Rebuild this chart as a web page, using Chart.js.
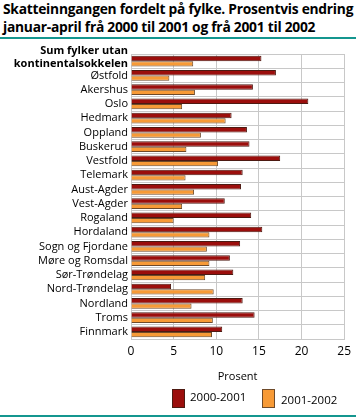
<!DOCTYPE html>
<html>
<head>
<meta charset="utf-8">
<script src="https://cdn.jsdelivr.net/npm/chart.js@4.4.1/dist/chart.umd.min.js"></script>
<style>
  html, body { margin: 0; padding: 0; background: #ffffff; }
  #wrap { position: relative; width: 356px; height: 417px; overflow: hidden; font-family: "Open Sans", sans-serif; }
  #title { position: absolute; left: 3px; top: 0px; font-weight: 700; font-size: 13.8px; line-height: 17.5px; color: #000; letter-spacing: -0.25px; white-space: nowrap; }
  .rule { position: absolute; left: 0; width: 356px; height: 2px; background: #14968f; }
  canvas { position: absolute; left: 0; top: 0; }
  .lg { position: absolute; font-size: 11.5px; color: #000; white-space: nowrap; line-height: 14px; }
  .box { position: absolute; width: 11px; height: 17px; border: 1px solid #555; }
</style>
</head>
<body>
<div id="wrap">
  <div id="title">Skatteinngangen fordelt på fylke. Prosentvis endring<br>januar-april frå 2000 til 2001 og frå 2001 til 2002</div>
  <div class="rule" style="top:37px"></div>
  <canvas id="c" width="356" height="417"></canvas>
  <div id="legend"></div>
  <div class="rule" style="top:415px"></div>
</div>
<script>
const categories = [
  ["Sum fylker utan", "kontinentalsokkelen"],
  "Østfold", "Akershus", "Oslo", "Hedmark", "Oppland", "Buskerud", "Vestfold",
  "Telemark", "Aust-Agder", "Vest-Agder", "Rogaland", "Hordaland",
  "Sogn og Fjordane", "Møre og Romsdal", "Sør-Trøndelag", "Nord-Trøndelag",
  "Nordland", "Troms", "Finnmark"
];
const seriesNames = ["2000-2001", "2001-2002"];
const values2000_2001 = [15.3, 17.0, 14.3, 20.8, 11.8, 13.6, 13.9, 17.5, 13.1, 12.9, 11.0, 14.1, 15.4, 12.8, 11.6, 12.0, 4.7, 13.1, 14.5, 10.7];
const values2001_2002 = [7.3, 4.5, 7.5, 6.0, 11.1, 8.2, 6.5, 10.2, 6.4, 7.4, 6.0, 5.0, 9.2, 8.9, 9.2, 8.7, 9.7, 7.1, 9.6, 9.5];
const xTicks = [0, 5, 10, 15, 20, 25];
const seriesColors = ['#9b0e0c', '#f79a36'];
const seriesBorders = ['#4d1a12', '#6e4a2a'];

const FONT = '"Open Sans", sans-serif';
const gridColor = '#c8c8c8';

// shift the two-line first category label up so its second line sits on the row
const firstLabelShift = {
  id: 'firstLabelShift',
  beforeDraw(chart) {
    const items = chart.scales.y.getLabelItems();
    if (items && items.length && !items._shifted) {
      items[0].textOffset -= 4;
      items._shifted = true;
    }
  }
};

const chart = new Chart(document.getElementById('c'), {
  type: 'bar',
  data: {
    labels: categories,
    datasets: [
      { label: seriesNames[0], data: values2000_2001, backgroundColor: seriesColors[0], borderColor: seriesBorders[0], borderWidth: 1, categoryPercentage: 0.74, barPercentage: 1 },
      { label: seriesNames[1], data: values2001_2002, backgroundColor: seriesColors[1], borderColor: seriesBorders[1], borderWidth: 1, categoryPercentage: 0.74, barPercentage: 1 }
    ]
  },
  plugins: [firstLabelShift],
  options: {
    indexAxis: 'y',
    responsive: false,
    animation: false,
    devicePixelRatio: 1,
    layout: { padding: { top: 54, right: 10, bottom: 34, left: 0 } },
    plugins: {
      title: { display: false },
      tooltip: { enabled: false },
      legend: { display: false }
    },
    scales: {
      y: {
        grid: { color: gridColor, drawTicks: false, offset: true },
        border: { color: gridColor },
        ticks: {
          color: '#000',
          padding: 3,
          autoSkip: false,
          font: (ctx) => ctx.index === 0 ? { family: FONT, size: 11, weight: 'bold', lineHeight: '12.5px' } : { family: FONT, size: 11 }
        },
        afterFit: (s) => { s.width = 131; }
      },
      x: {
        min: 0, max: 25,
        afterBuildTicks: (s) => { s.ticks = xTicks.map(v => ({ value: v })); },
        grid: { color: gridColor, drawTicks: false },
        border: { color: gridColor },
        ticks: { color: '#000', padding: 5, font: { family: FONT, size: 12 } },
        title: { display: true, text: 'Prosent', color: '#000', font: { family: FONT, size: 11 }, padding: { top: 4, bottom: 0 } },
        afterFit: (s) => { s.height = 44; }
      }
    }
  }
});

// legend (HTML text, colours taken from the datasets)
const legendPos = [
  { box: [172, 389], text: [190, 390] },
  { box: [262, 389], text: [281, 393] }
];
const lg = document.getElementById('legend');
chart.data.datasets.forEach((ds, i) => {
  const b = document.createElement('div');
  b.className = 'box';
  b.style.left = legendPos[i].box[0] + 'px';
  b.style.top = legendPos[i].box[1] + 'px';
  b.style.background = ds.backgroundColor;
  b.style.borderColor = ds.borderColor;
  lg.appendChild(b);
  const t = document.createElement('div');
  t.className = 'lg';
  t.style.left = legendPos[i].text[0] + 'px';
  t.style.top = legendPos[i].text[1] + 'px';
  t.textContent = ds.label;
  lg.appendChild(t);
});
</script>
</body>
</html>
